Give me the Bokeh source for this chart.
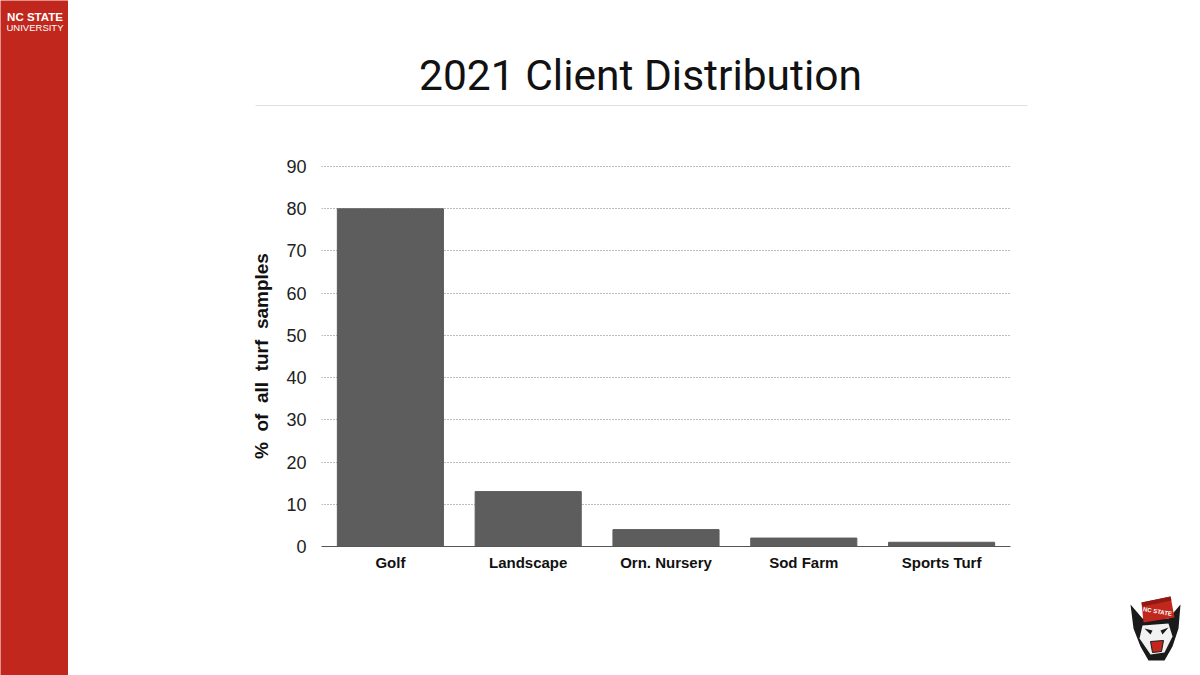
from bokeh.plotting import figure
from bokeh.layouts import row, column
from bokeh.models import Range1d, FactorRange, FixedTicker, ColumnDataSource
from bokeh.core.properties import value
from bokeh.embed import file_html
from bokeh.resources import INLINE

# ---- data ----
categories = ["Golf", "Landscape", "Orn. Nursery", "Sod Farm", "Sports Turf"]
percent = [80, 13, 4, 2, 1]
y_ticks = [0, 10, 20, 30, 40, 50, 60, 70, 80, 90]
title_text = "2021 Client Distribution"
y_label = "%\u00a0 of\u00a0 all\u00a0 turf\u00a0 samples"
brand_line1 = "NC STATE"
brand_line2 = "UNIVERSITY"

RED = "#c1271d"


def deco_fig(w, h, bg="white"):
    f = figure(width=w, height=h, x_range=Range1d(0, w), y_range=Range1d(h, 0),
               min_border=0, x_axis_type=None, y_axis_type=None,
               output_backend="svg", toolbar_location=None)
    f.outline_line_color = None
    f.background_fill_color = bg
    f.border_fill_color = bg
    return f


# ---- left red band ----
band = deco_fig(68, 675, RED)
band.text(x=[34.5], y=[16], text=[brand_line1], text_align="center", text_baseline="middle",
          text_color="white", text_font=value("Liberation Sans"), text_font_style="bold",
          text_font_size="11.5px")
band.text(x=[34.5], y=[27], text=[brand_line2], text_align="center", text_baseline="middle",
          text_color="white", text_font=value("Liberation Sans"), text_font_size="9.5px")

# ---- header with title ----
header = deco_fig(1052, 128)
header.text(x=[572], y=[75], text=[title_text], text_align="center", text_baseline="middle",
            text_color="#111111", text_font=value("Roboto"), text_font_size="42.5px")
header.line(x=[187, 959], y=[105, 105], line_color="#e0e0e0", line_width=1)

# ---- chart ----
src = ColumnDataSource(dict(cat=categories, pct=percent))
chart = figure(x_range=FactorRange(*categories, range_padding=0), y_range=Range1d(0, 90.25),
               width=1052, height=547, output_backend="svg", toolbar_location=None,
               min_border_left=253, min_border_right=110, min_border_top=37, min_border_bottom=129)
chart.vbar(x="cat", top="pct", width=0.77, source=src, fill_color="#5d5d5e", line_color="#5d5d5e")

chart.outline_line_color = None
chart.background_fill_color = "white"
chart.border_fill_color = "white"
chart.xgrid.visible = False
chart.ygrid.grid_line_color = "#7a7a7a"
chart.ygrid.grid_line_dash = "1 2"
chart.ygrid.grid_line_width = 1

chart.yaxis.ticker = FixedTicker(ticks=y_ticks)
chart.yaxis.axis_line_color = None
chart.yaxis.major_tick_line_color = None
chart.yaxis.minor_tick_line_color = None
chart.yaxis.major_tick_out = 0
chart.yaxis.major_tick_in = 0
chart.yaxis.minor_tick_out = 0
chart.yaxis.major_label_standoff = 15
chart.yaxis.major_label_text_font = "Liberation Sans"
chart.yaxis.major_label_text_font_size = "18px"
chart.yaxis.major_label_text_color = "#222222"
chart.yaxis.axis_label = y_label
chart.yaxis.axis_label_text_font = "Liberation Sans"
chart.yaxis.axis_label_text_font_style = "bold"
chart.yaxis.axis_label_text_font_size = "19px"
chart.yaxis.axis_label_text_color = "#111111"
chart.yaxis.axis_label_standoff = 11

chart.xaxis.axis_line_color = "#555555"
chart.xaxis.axis_line_width = 1
chart.xaxis.major_tick_line_color = None
chart.xaxis.minor_tick_line_color = None
chart.xaxis.major_tick_out = 0
chart.xaxis.major_tick_in = 0
chart.xaxis.major_label_standoff = 7
chart.xaxis.major_label_text_font = "Liberation Sans"
chart.xaxis.major_label_text_font_style = "bold"
chart.xaxis.major_label_text_font_size = "15px"
chart.xaxis.major_label_text_color = "#111111"

# ---- mascot strip (simplified wolf head), full height so frames stay aligned ----
wolf = deco_fig(80, 675)
wolf.patch(x=[10, 22, 48, 60, 58, 52, 44, 28, 20, 13], y=[604, 618, 618, 604, 628, 646, 660, 660, 646, 628],
           fill_color="#1a1a1a", line_color=None)
wolf.patch(x=[21, 50, 54, 23], y=[602, 596, 617, 622], fill_color=RED, line_color=None)
wolf.patch(x=[21, 50, 51, 22], y=[602, 596, 600, 606], fill_color="#8f1a14", line_color=None)
wolf.text(x=[37], y=[611], text=[brand_line1], text_align="center", text_baseline="middle", angle=-0.17,
          text_color="white", text_font=value("Liberation Sans"), text_font_style="bold", text_font_size="6px")
wolf.patch(x=[22, 48, 52, 44, 30, 19], y=[625, 623, 636, 652, 654, 638], fill_color="#f2f2f2", line_color=None)
wolf.patch(x=[24, 32, 30], y=[628, 630, 634], fill_color="#1a1a1a", line_color=None)
wolf.patch(x=[40, 48, 42], y=[630, 627, 634], fill_color="#1a1a1a", line_color=None)
wolf.patch(x=[30, 43, 41, 32], y=[641, 640, 651, 652], fill_color=RED, line_color="#1a1a1a")

# header wrapped in its own row so its frame is not aligned with the chart's frame
page = row(band, column(row(header), chart), wolf)

open("out.html", "w").write(file_html(page, INLINE))
